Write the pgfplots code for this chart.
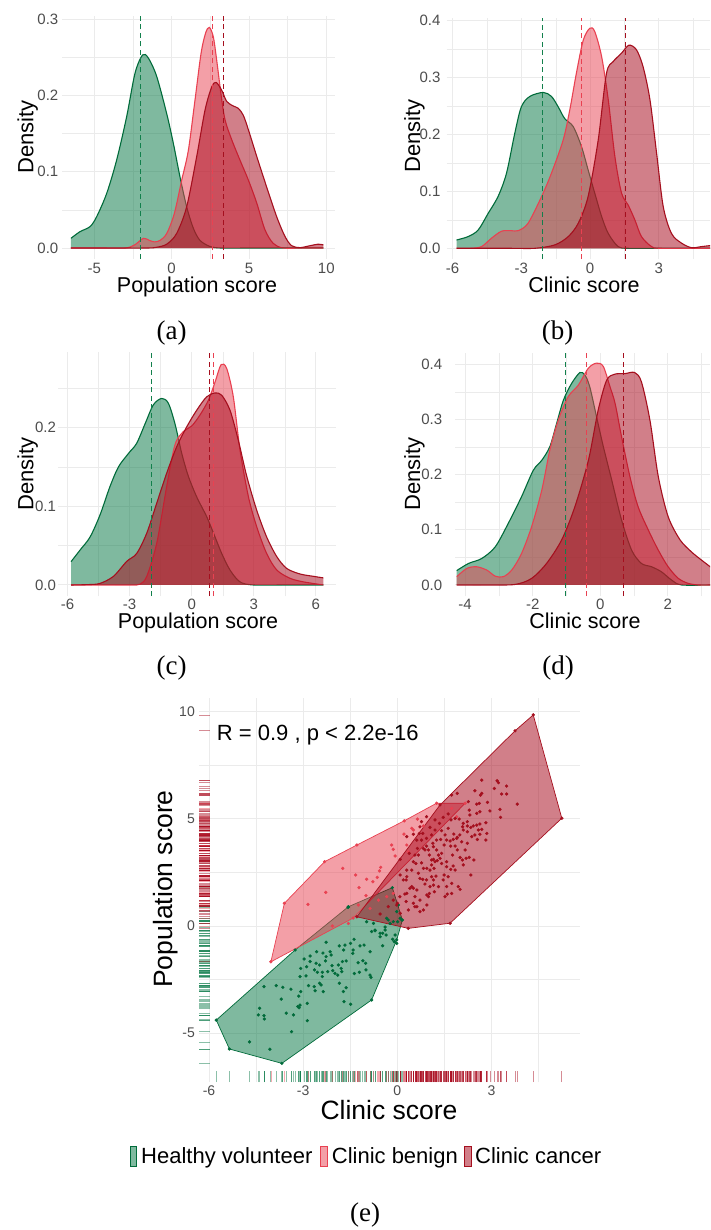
\documentclass[border=0pt]{standalone}
\usepackage{pgfplots}
\pgfplotsset{compat=1.18}
\usepackage{pgfplotstable}
\usepackage{fontspec}
\setmainfont{Liberation Sans}
\newfontfamily\capfont{Liberation Serif}

\definecolor{hv}{HTML}{017541}
\definecolor{hvline}{HTML}{006B3A}
\definecolor{hvdash}{HTML}{12804C}
\definecolor{cb}{HTML}{E94151}
\definecolor{cc}{HTML}{A50014}
\definecolor{ccline}{HTML}{A50F1E}
\definecolor{tickc}{HTML}{4D4D4D}
\definecolor{gridc}{HTML}{EBEBEB}

\pgfdeclareplotmark{rugx}{\pgfpathmoveto{\pgfpointorigin}\pgfpathlineto{\pgfqpoint{0pt}{11.4pt}}\pgfusepathqstroke}
\pgfdeclareplotmark{rugy}{\pgfpathmoveto{\pgfpointorigin}\pgfpathlineto{\pgfqpoint{11.4pt}{0pt}}\pgfusepathqstroke}

\pgfplotsset{
  panel/.style={
    scale only axis, anchor=south west,
    axis line style={draw=none}, tick style={draw=none},
    xmajorgrids, ymajorgrids, xminorgrids, yminorgrids,
    major grid style={draw=gridc, line width=1.0pt},
    minor grid style={draw=gridc, line width=0.5pt},
    ticklabel style={font=\fontsize{15}{16}\selectfont, text=tickc},
    xticklabel style={anchor=north, inner sep=0pt},
    yticklabel style={anchor=east, inner sep=0pt},
  },
}

% density curve: filled area plus upper outline
\newcommand{\dens}[3]{%
  \addplot[draw=none, fill=#1, fill opacity=0.5, smooth] table {#3} \closedcycle;
  \addplot[draw=#2, line width=1.1pt, smooth] table {#3};
}
\newcommand{\vmean}[4]{%
  \addplot[#1, dash pattern=on 5pt off 3.5pt, line width=1.1pt] coordinates {(#2,#3) (#2,#4)};
}

% ---------- (a) population score ----------
\pgfplotstableread{
x y
-6.51 0.0127
-5.93 0.0214
-5.28 0.028
-4.85 0.041
-4.20 0.0716
-3.56 0.115
-2.91 0.172
-2.37 0.229
-1.88 0.253
-1.51 0.249
-0.97 0.225
-0.32 0.176
0.11 0.137
0.54 0.093
0.97 0.054
1.40 0.026
1.83 0.010
2.48 0.002
3.2 0
5 0
7 0
9.81 0
}\aHV
\pgfplotstableread{
x y
-6.51 0
-4.5 0
-3.0 0
-2.4 0.004
-1.83 0.0127
-1.45 0.010
-1.10 0.008
-0.75 0.010
-0.32 0.019
0.17 0.045
0.65 0.089
1.08 0.128
1.51 0.194
1.90 0.255
2.20 0.282
2.44 0.289
2.70 0.276
2.95 0.240
3.20 0.200
3.45 0.168
3.88 0.142
4.42 0.115
4.96 0.089
5.50 0.059
6.03 0.024
6.57 0.006
7.22 0
8.5 0
9.81 0
}\aCB
\pgfplotstableread{
x y
-6.51 0
-4 0
-1.6 0
-0.97 0.001
-0.32 0.005
0.32 0.019
0.97 0.054
1.62 0.120
2.16 0.181
2.59 0.211
2.87 0.217
3.23 0.207
3.56 0.192
3.99 0.186
4.31 0.183
4.63 0.174
4.96 0.155
5.50 0.120
6.14 0.080
6.79 0.041
7.33 0.015
7.76 0.003
8.30 0.0005
8.94 0.003
9.48 0.005
9.81 0.004
}\aCC

% ---------- (b) clinic score ----------
\pgfplotstableread{
x y
-5.83 0.0146
-5.33 0.0205
-4.89 0.032
-4.45 0.0615
-4.02 0.091
-3.65 0.132
-3.29 0.202
-3.00 0.249
-2.63 0.267
-2.05 0.274
-1.69 0.267
-1.40 0.249
-1.11 0.228
-0.74 0.214
-0.38 0.179
-0.09 0.138
0.20 0.097
0.50 0.056
0.79 0.026
1.22 0.003
1.66 0
3 0
5.3 0
}\bHV
\pgfplotstableread{
x y
-5.83 0
-5.2 0
-4.74 0.003
-4.31 0.0176
-3.87 0.030
-3.45 0.031
-3.14 0.031
-2.71 0.044
-2.12 0.091
-1.69 0.132
-1.18 0.190
-0.89 0.243
-0.60 0.308
-0.30 0.366
-0.01 0.387
0.20 0.381
0.50 0.337
0.79 0.261
1.08 0.161
1.37 0.097
1.66 0.076
1.95 0.050
2.24 0.0205
2.68 0.003
3.11 0
5.3 0
}\bCB
\pgfplotstableread{
x y
-5.83 0
-3.5 0
-2.41 0
-1.54 0.006
-0.96 0.0205
-0.52 0.044
-0.09 0.091
0.35 0.190
0.71 0.307
1.00 0.328
1.37 0.343
1.69 0.357
2.02 0.349
2.31 0.319
2.61 0.261
2.90 0.167
3.19 0.073
3.55 0.026
3.99 0.009
4.43 0.001
4.86 0.003
5.30 0.005
}\bCC

% ---------- (c) population score ----------
\pgfplotstableread{
x y
-5.83 0.0296
-5.39 0.0445
-4.91 0.061
-4.43 0.089
-3.95 0.125
-3.54 0.150
-3.06 0.167
-2.66 0.180
-2.25 0.205
-1.85 0.229
-1.45 0.237
-1.13 0.231
-0.81 0.205
-0.48 0.167
-0.16 0.138
0.24 0.112
0.72 0.087
1.05 0.066
1.45 0.040
1.85 0.019
2.33 0.004
2.98 0
4.5 0
6.36 0
}\cHV
\pgfplotstableread{
x y
-5.83 0
-4 0
-2.9 0
-2.50 0.001
-2.17 0.011
-1.69 0.053
-1.21 0.125
-0.81 0.178
-0.40 0.195
0.00 0.202
0.40 0.216
0.81 0.235
1.13 0.258
1.42 0.280
1.69 0.275
2.01 0.239
2.33 0.172
2.74 0.112
3.14 0.074
3.62 0.040
4.11 0.019
4.75 0.0085
5.39 0.004
6.36 0
}\cCB
\pgfplotstableread{
x y
-5.83 0
-5.0 0.0005
-4.43 0.002
-3.78 0.011
-3.14 0.030
-2.66 0.040
-2.17 0.066
-1.69 0.104
-1.21 0.142
-0.72 0.176
-0.24 0.201
0.24 0.222
0.72 0.239
1.13 0.244
1.45 0.241
1.85 0.222
2.25 0.184
2.66 0.138
3.14 0.095
3.62 0.061
4.11 0.036
4.59 0.021
5.23 0.014
5.88 0.011
6.36 0.009
}\cCC

% ---------- (d) clinic score ----------
\pgfplotstableread{
x y
-4.25 0.026
-3.90 0.039
-3.51 0.048
-3.11 0.069
-2.72 0.112
-2.33 0.160
-1.98 0.208
-1.73 0.226
-1.49 0.251
-1.29 0.293
-1.09 0.335
-0.85 0.365
-0.60 0.385
-0.45 0.380
-0.31 0.359
-0.11 0.305
0.09 0.251
0.34 0.190
0.63 0.118
0.93 0.063
1.22 0.039
1.52 0.033
1.81 0.024
2.11 0.009
2.41 0
3.3 0
}\dHV
\pgfplotstableread{
x y
-4.25 0.015
-3.95 0.030
-3.66 0.033
-3.36 0.027
-3.11 0.016
-2.87 0.015
-2.62 0.027
-2.33 0.057
-2.03 0.106
-1.73 0.172
-1.49 0.245
-1.24 0.299
-0.95 0.341
-0.65 0.362
-0.35 0.393
-0.11 0.402
0.09 0.396
0.29 0.359
0.44 0.329
0.63 0.269
0.88 0.196
1.12 0.142
1.42 0.100
1.72 0.063
2.01 0.033
2.31 0.012
2.60 0.003
2.90 0
3.3 0
}\dCB
\pgfplotstableread{
x y
-4.25 0
-3.3 0
-2.52 0.001
-2.03 0.012
-1.59 0.039
-1.14 0.082
-0.75 0.142
-0.35 0.226
-0.06 0.317
0.19 0.371
0.43 0.382
0.73 0.383
1.02 0.385
1.22 0.368
1.47 0.299
1.72 0.196
2.01 0.124
2.36 0.082
2.70 0.060
3.00 0.045
3.30 0.031
}\dCC

% ---------- (e) scatter: clinic score vs population score ----------
\pgfplotstableread{
x y
-5.77 -4.39
-3.26 -1.12
-1.56 0.90
-0.16 1.79
0.16 0.28
-0.02 -0.65
-0.82 -3.45
-3.68 -6.41
-5.35 -5.74
-5.77 -4.39
}\hullHV
\pgfplotstableread{
x y
-4.03 -1.67
-3.60 1.06
-2.32 3.00
-1.29 3.78
0.22 4.91
1.25 5.73
2.16 5.73
-1.41 0.37
-4.03 -1.67
}\hullCB
\pgfplotstableread{
x y
-1.29 0.43
1.36 5.65
3.75 9.11
4.33 9.85
5.24 5.03
1.68 0.13
0.35 -0.11
-1.29 0.43
}\hullCC

\pgfplotstableread{
x y
-5.77 -4.39
-5.35 -5.74
-3.68 -6.41
-0.82 -3.45
-0.02 -0.65
0.16 0.28
-0.16 1.79
-1.56 0.90
-3.26 -1.12
-4.71 -5.41
-4.06 -5.75
-3.37 -4.93
-4.39 -3.84
-4.43 -4.15
-4.25 -4.18
-4.24 -4.34
-4.25 -2.83
-3.86 -2.78
-3.65 -2.86
-3.39 -2.95
-3.70 -3.41
-3.14 -3.27
-3.08 -3.06
-3.10 -3.69
-3.17 -3.76
-3.13 -3.81
-3.54 -4.07
-3.31 -4.15
-2.87 -4.42
-2.87 -3.61
-2.83 -2.78
-2.65 -2.83
-2.62 -3.02
-2.43 -2.75
-2.36 -3.06
-2.48 -2.67
-2.39 -2.36
-2.39 -2.16
-2.22 -2.13
-2.06 -2.08
-1.99 -2.21
-1.90 -2.29
-1.77 -2.13
-1.85 -2.67
-1.72 -3.06
-1.63 -2.88
-1.70 -3.53
-1.49 -3.65
-1.37 -2.22
-1.21 -2.16
-1.00 -2.05
-0.87 -2.29
-0.84 -2.40
-3.10 -2.36
-3.08 -1.98
-2.97 -1.54
-2.89 -1.90
-2.91 -2.33
-2.78 -1.66
-2.59 -1.74
-2.64 -2.05
-2.55 -2.16
-2.48 -1.82
-2.29 -1.63
-2.27 -1.43
-2.14 -1.20
-2.11 -1.35
-2.08 -1.85
-1.88 -1.82
-1.79 -1.98
-1.75 -1.66
-1.63 -1.63
-1.42 -1.28
-1.41 -1.12
-1.25 -1.71
-1.10 -1.62
-1.01 -1.74
-0.87 -1.20
-1.06 -0.89
-1.19 -0.93
-1.38 -0.62
-1.49 -0.81
-1.67 -0.89
-1.71 -1.12
-1.85 -0.93
-2.27 -0.76
-2.37 -1.26
-2.57 -1.20
-2.78 -1.40
-0.82 -0.26
-0.71 -0.22
-0.55 -0.34
-0.47 -0.34
-0.39 -0.19
-0.36 -0.42
-0.47 -0.92
-0.10 -0.73
-0.02 -0.81
-0.15 -0.62
-0.07 -0.42
-0.98 0.20
-0.76 0.12
-0.29 0.28
-0.23 0.12
-1.57 0.87
-0.34 0.36
-0.13 0.20
0.01 0.20
0.09 0.36
0.14 0.28
-0.02 0.67
0.03 0.98
-0.71 -0.19
-0.55 -0.50
-0.39 -0.05
}\ptsHV

\pgfplotstableread{
x y
-4.03 -1.67
-3.60 1.06
-2.32 3.00
-1.29 3.78
0.22 4.91
1.25 5.73
2.16 5.73
-1.41 0.37
-2.85 1.01
-2.28 1.57
-1.74 2.69
-1.33 2.38
-1.22 1.79
-0.98 2.18
-0.78 2.07
-0.64 2.27
-0.57 2.57
-0.53 2.74
-0.18 3.78
-0.07 3.27
0.21 4.29
0.46 4.56
0.64 4.99
0.30 3.78
0.35 3.47
-1.56 0.12
-2.07 0.00
-0.87 0.82
-0.60 1.21
-0.34 1.37
-0.13 1.52
-0.13 3.58
0.51 4.48
1.73 5.49
1.89 5.10
0.83 4.67
-1.00 1.42
-1.24 0.98
}\ptsCB

\pgfplotstableread{
x y
-1.29 0.43
1.36 5.65
3.75 9.11
4.33 9.85
5.24 5.03
1.68 0.13
0.35 -0.11
2.69 6.81
3.18 6.78
3.22 6.69
3.48 6.53
3.09 6.42
2.47 6.31
2.69 6.19
2.65 6.11
1.91 6.19
1.73 6.11
2.87 5.77
2.26 5.80
2.53 5.69
2.61 5.72
3.82 5.69
3.48 6.16
3.32 6.16
2.95 5.37
3.27 5.44
3.29 5.07
2.63 5.33
2.53 5.26
2.29 5.41
2.31 5.18
1.97 4.99
2.10 4.79
2.23 4.87
2.08 4.63
2.23 4.67
2.34 4.60
2.42 4.67
2.53 4.71
2.63 4.76
2.82 4.82
2.69 4.51
2.58 4.48
2.63 4.28
2.82 4.01
2.85 4.32
2.55 4.04
2.47 4.25
2.37 4.17
2.23 4.40
2.10 4.48
1.99 4.25
1.91 4.14
1.80 4.29
1.78 4.04
1.68 3.97
1.70 3.73
1.84 3.73
1.89 4.09
1.57 4.01
1.49 3.78
1.41 3.39
1.25 3.55
1.31 3.31
1.36 3.16
1.15 3.11
1.20 3.00
1.27 3.05
1.09 2.85
1.04 2.61
1.17 2.69
1.02 3.31
0.93 3.73
0.88 3.55
0.64 3.62
0.56 3.31
0.77 2.95
0.83 2.69
0.59 2.92
0.67 2.46
1.09 2.30
1.23 2.33
1.49 2.38
1.62 2.30
1.46 2.15
1.73 1.99
1.57 1.84
1.73 1.52
1.94 1.84
2.00 1.71
2.34 2.38
2.44 3.08
2.29 3.20
2.00 3.20
2.07 3.08
2.19 3.16
1.78 2.80
1.70 2.64
1.84 2.61
2.10 2.85
1.57 3.00
1.41 2.92
1.59 1.49
1.52 1.37
0.99 1.37
1.02 1.52
0.56 1.37
0.46 1.84
0.51 1.76
0.62 0.90
0.72 0.67
0.30 2.30
0.28 2.15
0.88 1.96
0.81 2.18
0.93 2.15
0.24 1.49
0.51 1.06
0.08 1.37
0.00 1.06
0.28 1.14
1.15 1.91
1.31 1.84
1.18 1.60
1.57 2.77
1.76 3.31
1.91 3.55
2.16 3.55
2.05 3.93
2.23 3.86
1.25 4.01
1.13 3.86
1.38 4.04
1.09 4.25
0.93 4.09
0.81 4.32
0.77 4.01
0.62 4.01
0.70 4.32
0.51 4.28
0.30 4.17
0.38 3.39
0.09 3.11
0.46 2.61
0.77 4.87
0.93 5.10
0.72 4.63
1.20 4.95
1.34 4.79
1.46 5.07
1.62 5.23
1.04 4.60
1.20 4.48
1.41 4.45
1.62 4.56
1.52 4.25
1.71 4.95
1.84 5.02
0.30 2.61
0.51 3.00
0.67 3.31
0.83 3.62
0.99 3.55
1.15 3.70
1.09 3.08
0.94 2.69
0.72 2.22
0.40 1.76
0.62 1.68
0.09 2.38
0.19 2.15
0.30 1.52
0.56 0.90
0.72 1.21
0.94 1.45
1.04 1.84
1.15 2.15
-0.13 1.21
-0.02 0.98
-0.29 0.90
-0.55 0.56
0.09 0.59
0.35 0.75
0.83 0.75
0.94 0.98
}\ptsCC

\begin{document}
\begin{tikzpicture}[x=1pt,y=1pt]
\useasboundingbox (0,0) rectangle (710,-1230);
\fill[white] (0,0) rectangle (710,-1230);

% ---------------- (a) ----------------
\begin{axis}[panel, at={(62pt,-259pt)}, width=273pt, height=243pt,
  xmin=-7.09, xmax=10.56, ymin=-0.0144, ymax=0.304,
  xtick={-5,0,5,10}, xticklabels={-5,0,5,10},
  minor xtick={-2.5,2.5,7.5},
  ytick={0,0.1,0.2,0.3}, yticklabels={0.0,0.1,0.2,0.3},
  minor ytick={0.05,0.15,0.25},
  xticklabel style={yshift=-3.5pt}, yticklabel style={xshift=-3.5pt}]
  \dens{hv}{hvline}{\aHV}
  \dens{cb}{cb}{\aCB}
  \dens{cc}{ccline}{\aCC}
  \vmean{hvdash}{-2.0}{-0.0144}{0.304}
  \vmean{cb}{2.63}{-0.0144}{0.304}
  \vmean{ccline}{3.38}{-0.0144}{0.304}
\end{axis}

% ---------------- (b) ----------------
\begin{axis}[panel, at={(446.7pt,-259.1pt)}, width=263.3pt, height=241.2pt,
  xmin=-6.26, xmax=5.23, ymin=-0.019, ymax=0.405,
  xtick={-6,-3,0,3}, xticklabels={-6,-3,0,3},
  minor xtick={-4.5,-1.5,1.5,4.5},
  ytick={0,0.1,0.2,0.3,0.4}, yticklabels={0.0,0.1,0.2,0.3,0.4},
  minor ytick={0.05,0.15,0.25,0.35},
  xticklabel style={yshift=-3.5pt}, yticklabel style={xshift=-6pt}]
  \dens{hv}{hvline}{\bHV}
  \dens{cb}{cb}{\bCB}
  \dens{cc}{ccline}{\bCC}
  \vmean{hvdash}{-2.08}{-0.019}{0.405}
  \vmean{cb}{-0.38}{-0.019}{0.405}
  \vmean{ccline}{1.54}{-0.019}{0.405}
\end{axis}

% ---------------- (c) ----------------
\begin{axis}[panel, at={(58.2pt,-596pt)}, width=277.6pt, height=244pt,
  xmin=-6.45, xmax=6.96, ymin=-0.014, ymax=0.296,
  xtick={-6,-3,0,3,6}, xticklabels={-6,-3,0,3,6},
  minor xtick={-4.5,-1.5,1.5,4.5},
  ytick={0,0.1,0.2}, yticklabels={0.0,0.1,0.2},
  minor ytick={0.05,0.15,0.25},
  xticklabel style={yshift=-3pt}, yticklabel style={xshift=-2pt}]
  \dens{hv}{hvline}{\cHV}
  \dens{cb}{cb}{\cCB}
  \dens{cc}{ccline}{\cCC}
  \vmean{hvdash}{-1.93}{-0.014}{0.296}
  \vmean{cb}{1.05}{-0.014}{0.296}
  \vmean{ccline}{0.84}{-0.014}{0.296}
\end{axis}

% ---------------- (d) ----------------
\begin{axis}[panel, at={(455pt,-596pt)}, width=255pt, height=242.8pt,
  xmin=-4.3, xmax=3.25, ymin=-0.02, ymax=0.42,
  xtick={-4,-2,0,2}, xticklabels={-4,-2,0,2},
  minor xtick={-3,-1,1,3},
  ytick={0,0.1,0.2,0.3,0.4}, yticklabels={0.0,0.1,0.2,0.3,0.4},
  minor ytick={0.05,0.15,0.25,0.35},
  xticklabel style={yshift=-2.5pt}, yticklabel style={xshift=-12.7pt}]
  \dens{hv}{hvline}{\dHV}
  \dens{cb}{cb}{\dCB}
  \dens{cc}{ccline}{\dCC}
  \vmean{hvdash}{-1.02}{-0.02}{0.42}
  \vmean{cb}{-0.42}{-0.02}{0.42}
  \vmean{ccline}{0.69}{-0.02}{0.42}
\end{axis}

% ---------------- (e) ----------------
\begin{axis}[panel, at={(199pt,-1082pt)}, width=381pt, height=384pt,
  xmin=-6.32, xmax=5.82, ymin=-7.28, ymax=10.64,
  xtick={-6,-3,0,3}, xticklabels={-6,-3,0,3},
  minor xtick={-4.5,-1.5,1.5,4.5},
  ytick={-5,0,5,10}, yticklabels={-5,0,5,10},
  minor ytick={-2.5,2.5,7.5},
  ticklabel style={font=\fontsize{14}{16}\selectfont},
  xticklabel style={yshift=-4pt}, yticklabel style={xshift=-4pt}]
  \addplot[fill=hv, fill opacity=0.5, draw=hvline, line width=0.7pt] table {\hullHV};
  \addplot[fill=cb, fill opacity=0.5, draw=cb, line width=0.7pt] table {\hullCB};
  \addplot[fill=cc, fill opacity=0.5, draw=ccline, line width=0.7pt] table {\hullCC};
  \addplot[only marks, mark=*, mark size=1.45pt, hvline] table {\ptsHV};
  \addplot[only marks, mark=*, mark size=1.45pt, cb] table {\ptsCB};
  \addplot[only marks, mark=*, mark size=1.45pt, ccline] table {\ptsCC};
  % marginal rugs
  \addplot[only marks, mark=rugx, mark options={draw=hv, line width=0.7pt, opacity=0.45}] table[x=x, y expr=-7.28] {\ptsHV};
  \addplot[only marks, mark=rugx, mark options={draw=cb, line width=0.7pt, opacity=0.45}] table[x=x, y expr=-7.28] {\ptsCB};
  \addplot[only marks, mark=rugx, mark options={draw=cc, line width=0.7pt, opacity=0.45}] table[x=x, y expr=-7.28] {\ptsCC};
  \addplot[only marks, mark=rugy, mark options={draw=hv, line width=0.7pt, opacity=0.45}] table[x expr=-6.32, y=y] {\ptsHV};
  \addplot[only marks, mark=rugy, mark options={draw=cb, line width=0.7pt, opacity=0.45}] table[x expr=-6.32, y=y] {\ptsCB};
  \addplot[only marks, mark=rugy, mark options={draw=cc, line width=0.7pt, opacity=0.45}] table[x expr=-6.32, y=y] {\ptsCC};
\end{axis}

% axis titles
\begin{scope}[every node/.style={inner sep=0pt, text=black}]
\node[rotate=90, anchor=base, font=\fontsize{22}{24}\selectfont] at (33.3,-137) {Density};
\node[rotate=90, anchor=base, font=\fontsize{22}{24}\selectfont] at (420,-136) {Density};
\node[rotate=90, anchor=base, font=\fontsize{22}{24}\selectfont] at (33.3,-474) {Density};
\node[rotate=90, anchor=base, font=\fontsize{22}{24}\selectfont] at (420,-474) {Density};
\node[anchor=base, font=\fontsize{21.5}{24}\selectfont] at (197,-292.2) {Population score};
\node[anchor=base, font=\fontsize{21.5}{24}\selectfont] at (584,-292.2) {Clinic score};
\node[anchor=base, font=\fontsize{21.5}{24}\selectfont] at (198,-628) {Population score};
\node[anchor=base, font=\fontsize{21.5}{24}\selectfont] at (585,-628) {Clinic score};
\node[rotate=90, anchor=base, font=\fontsize{26.5}{28}\selectfont] at (172.7,-889) {Population score};
\node[anchor=base, font=\fontsize{26.5}{28}\selectfont] at (389,-1119.3) {Clinic score};
\node[anchor=base west, font=\fontsize{22}{24}\selectfont] at (216.7,-740) {R = 0.9 , p < 2.2e-16};

% legend
\fill[hv, fill opacity=0.5] (130,-1146) rectangle (136.7,-1166);
\draw[hvline, line width=1pt] (130,-1146) rectangle (136.7,-1166);
\fill[cb, fill opacity=0.5] (320.7,-1146) rectangle (327.7,-1166);
\draw[cb, line width=1pt] (320.7,-1146) rectangle (327.7,-1166);
\fill[cc, fill opacity=0.5] (464.3,-1146) rectangle (471.7,-1166);
\draw[ccline, line width=1pt] (464.3,-1146) rectangle (471.7,-1166);
\node[anchor=base west, font=\fontsize{22}{24}\selectfont] at (141,-1163) {Healthy volunteer};
\node[anchor=base west, font=\fontsize{22}{24}\selectfont] at (331.7,-1163) {Clinic benign};
\node[anchor=base west, font=\fontsize{22}{24}\selectfont] at (475,-1163) {Clinic cancer};

% sub-figure captions
\node[font=\capfont\fontsize{27}{30}\selectfont] at (171.7,-333) {(a)};
\node[font=\capfont\fontsize{27}{30}\selectfont] at (557.5,-333) {(b)};
\node[font=\capfont\fontsize{27}{30}\selectfont] at (171.7,-668) {(c)};
\node[font=\capfont\fontsize{27}{30}\selectfont] at (558,-668) {(d)};
\node[font=\capfont\fontsize{27}{30}\selectfont] at (365,-1215) {(e)};
\end{scope}
\end{tikzpicture}
\end{document}
